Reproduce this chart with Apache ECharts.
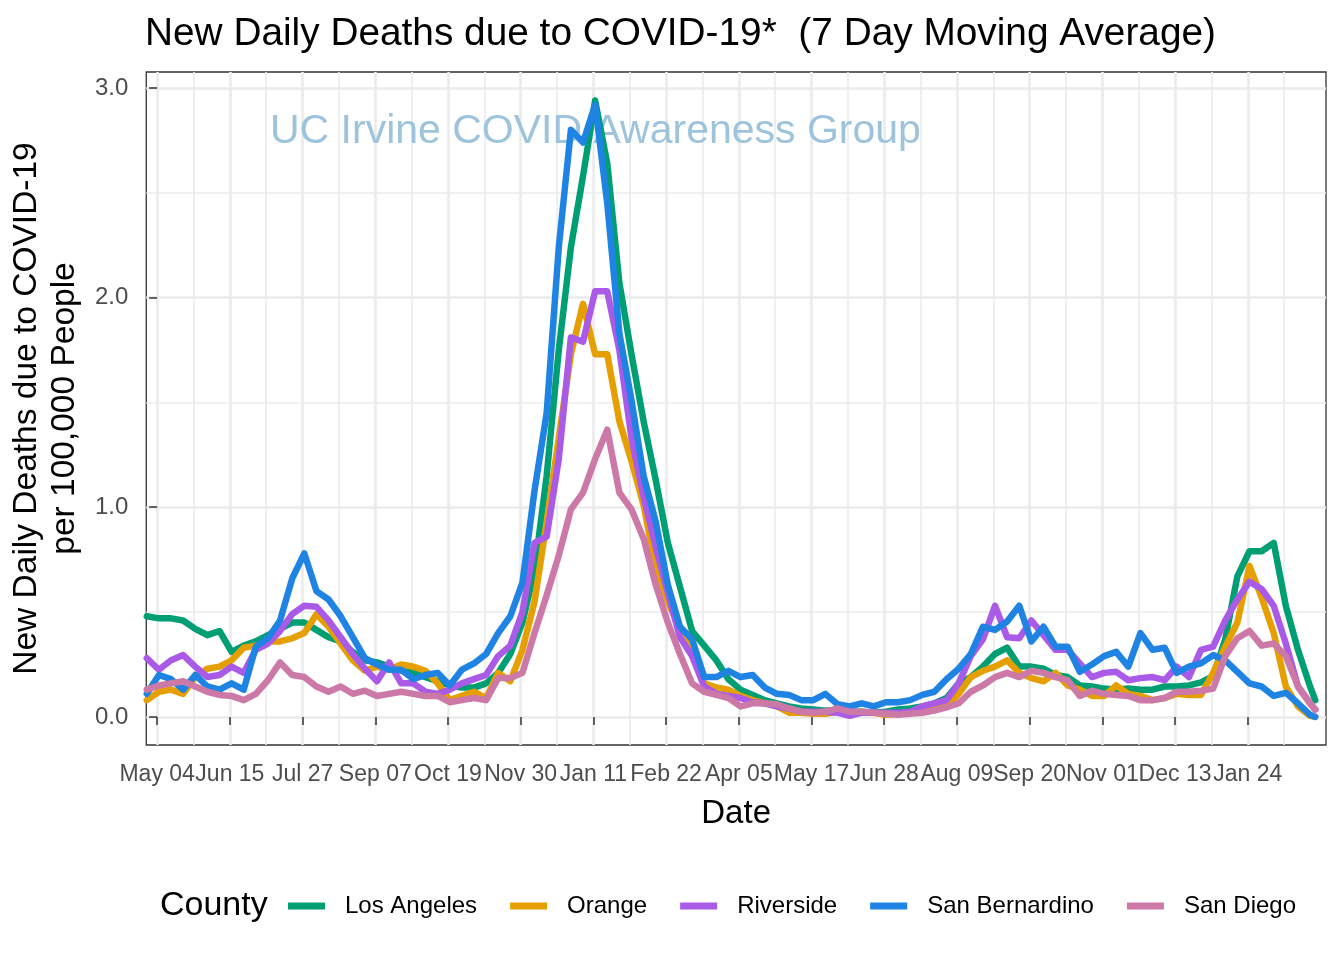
<!DOCTYPE html>
<html>
<head>
<meta charset="utf-8">
<script src="https://cdn.jsdelivr.net/npm/echarts@6/dist/echarts.min.js"></script>
<style>
html,body{margin:0;padding:0;background:#fff;}
#chart{width:1344px;height:960px;}
</style>
</head>
<body>
<div id="chart"></div>
<script>
// Day 0 = 2020-05-04
const dayOffsets = [-6,1,8,15,22,29,36,43,50,57,64,71,78,85,92,99,106,113,120,127,134,141,148,155,162,169,176,183,190,197,204,211,218,225,232,239,246,253,260,267,274,281,288,295,302,309,316,323,330,337,344,351,358,365,372,379,386,393,400,407,414,421,428,435,442,449,456,463,470,477,484,491,498,505,512,519,526,533,540,547,554,561,568,575,582,589,596,603,610,617,624,631,638,645,652,659,666,669];

const losAngeles = [0.48,0.47,0.47,0.46,0.42,0.39,0.41,0.31,0.34,0.36,
0.39,0.42,0.45,0.45,0.415,0.38,0.36,0.31,0.27,0.26,
0.24,0.22,0.21,0.19,0.17,0.15,0.14,0.14,0.16,0.21,
0.30,0.45,0.70,1.15,1.75,2.24,2.58,2.94,2.64,2.07,
1.73,1.41,1.13,0.83,0.62,0.41,0.34,0.27,0.18,0.13,
0.105,0.08,0.065,0.05,0.04,0.035,0.03,0.03,0.025,0.025,
0.02,0.025,0.035,0.04,0.05,0.065,0.09,0.16,0.19,0.24,
0.30,0.33,0.24,0.24,0.23,0.20,0.19,0.15,0.145,0.135,
0.13,0.135,0.13,0.13,0.145,0.145,0.15,0.165,0.195,0.37,
0.67,0.79,0.79,0.83,0.53,0.32,0.145,0.08];

const orange = [0.08,0.12,0.13,0.11,0.19,0.23,0.24,0.27,0.33,0.34,
0.36,0.36,0.375,0.40,0.49,0.43,0.35,0.27,0.22,0.24,
0.225,0.25,0.24,0.22,0.16,0.08,0.10,0.12,0.09,0.21,
0.17,0.32,0.55,0.93,1.33,1.73,1.97,1.73,1.73,1.41,
1.22,1.01,0.71,0.55,0.42,0.34,0.16,0.14,0.13,0.10,
0.08,0.065,0.05,0.02,0.02,0.015,0.015,0.025,0.015,0.02,
0.02,0.01,0.015,0.02,0.025,0.035,0.05,0.11,0.19,0.22,
0.24,0.27,0.21,0.185,0.17,0.21,0.15,0.13,0.10,0.10,
0.15,0.11,0.10,0.08,0.09,0.11,0.105,0.105,0.21,0.335,
0.45,0.72,0.57,0.40,0.145,0.05,0.005,0.0];

const riverside = [0.28,0.225,0.27,0.295,0.24,0.19,0.20,0.24,0.21,0.32,
0.35,0.41,0.49,0.53,0.525,0.46,0.38,0.30,0.23,0.17,
0.26,0.16,0.16,0.12,0.11,0.13,0.16,0.18,0.20,0.29,
0.34,0.50,0.83,0.86,1.23,1.81,1.79,2.03,2.03,1.75,
1.33,1.05,0.81,0.59,0.38,0.29,0.145,0.11,0.10,0.09,
0.07,0.065,0.05,0.04,0.025,0.025,0.025,0.02,0.005,0.02,
0.02,0.02,0.02,0.025,0.05,0.065,0.08,0.16,0.29,0.37,
0.53,0.38,0.375,0.46,0.39,0.32,0.32,0.255,0.19,0.21,
0.215,0.175,0.185,0.19,0.175,0.24,0.19,0.32,0.335,0.46,
0.56,0.645,0.61,0.53,0.35,0.145,0.065,0.035];

const sanBernardino = [0.11,0.20,0.18,0.13,0.20,0.145,0.13,0.16,0.13,0.335,
0.375,0.46,0.66,0.78,0.60,0.56,0.48,0.38,0.28,0.25,
0.225,0.225,0.18,0.20,0.21,0.15,0.225,0.255,0.30,0.40,
0.48,0.64,1.08,1.45,2.24,2.80,2.74,2.92,2.45,1.83,
1.51,1.15,0.93,0.63,0.43,0.37,0.19,0.19,0.22,0.19,
0.20,0.14,0.11,0.105,0.08,0.08,0.11,0.06,0.05,0.065,
0.05,0.07,0.07,0.08,0.105,0.12,0.18,0.23,0.30,0.43,
0.415,0.455,0.53,0.36,0.43,0.335,0.335,0.215,0.25,0.29,
0.31,0.24,0.40,0.32,0.33,0.21,0.24,0.255,0.295,0.27,
0.215,0.16,0.145,0.10,0.115,0.065,0.01,0.0];

const sanDiego = [0.13,0.15,0.16,0.17,0.145,0.12,0.105,0.10,0.08,0.11,
0.175,0.26,0.20,0.19,0.145,0.12,0.145,0.11,0.125,0.10,
0.11,0.12,0.11,0.10,0.10,0.07,0.08,0.09,0.08,0.185,
0.185,0.21,0.40,0.58,0.77,0.99,1.07,1.23,1.37,1.07,
0.99,0.85,0.63,0.45,0.30,0.16,0.12,0.105,0.09,0.05,
0.065,0.065,0.06,0.04,0.025,0.02,0.025,0.04,0.025,0.025,
0.02,0.015,0.01,0.015,0.02,0.03,0.045,0.065,0.12,0.15,
0.19,0.21,0.19,0.22,0.21,0.19,0.175,0.10,0.125,0.11,
0.105,0.10,0.08,0.08,0.09,0.12,0.12,0.125,0.135,0.29,
0.375,0.41,0.34,0.35,0.29,0.145,0.065,0.035];

const countyNames = ['Los Angeles','Orange','Riverside','San Bernardino','San Diego'];
const countyColors = ['#009E73','#E69F00','#A95AE6','#1E83E3','#CC79A7'];

const xTickDays = [0,42,84,126,168,210,252,294,336,378,420,462,504,546,588,630];
const xTickLabels = ['May 04','Jun 15','Jul 27','Sep 07','Oct 19','Nov 30','Jan 11','Feb 22','Apr 05','May 17','Jun 28','Aug 09','Sep 20','Nov 01','Dec 13','Jan 24'];
const xMinorDays = [21,63,105,147,189,231,273,315,357,399,441,483,525,567,609,651];
const yTicks = [0,1,2,3];
const yMinorTicks = [0.5,1.5,2.5];

const FONT = '"Liberation Sans", Arial, Helvetica, sans-serif';

function toPairs(vals){ return vals.map((v,i)=>[dayOffsets[i], v]); }
const seriesValues = [losAngeles, orange, riverside, sanBernardino, sanDiego];

const chart = echarts.init(document.getElementById('chart'), null, {renderer:'canvas'});
const option = {
  animation: false,
  backgroundColor: '#ffffff',
  textStyle: {fontFamily: FONT},
  title: {
    text: 'New Daily Deaths due to COVID-19*  (7 Day Moving Average)',
    left: 140, top: 10,
    textStyle: {fontFamily: FONT, fontSize: 38.8, fontWeight: 'normal', color: '#000'}
  },
  graphic: [
    {type:'text', left: 270, top: 111, z: 1, silent: true,
     style:{text:'UC Irvine COVID Awareness Group', font: '41px ' + FONT, fill:'#9DC4DC'}},
    {type:'text', left: 160, top: 889, silent: true,
     style:{text:'County', font: '34px ' + FONT, fill:'#000'}}
  ],
  legend: {
    data: countyNames,
    left: 283, top: 889,
    icon: 'rect', itemWidth: 37, itemHeight: 7, itemGap: 33,
    textStyle: {fontFamily: FONT, fontSize: 24, color:'#000', padding:[0,0,0,15]},
    selectedMode: false
  },
  grid: {left: 143, right: 18, top: 72, bottom: 215, show: true,
         borderColor: '#333333', borderWidth: 1.3, backgroundColor: '#ffffff'},
  xAxis: [
    {type:'value', min: -6.3, max: 675.2, gridIndex: 0,
     name: 'Date', nameLocation: 'middle', nameGap: 52,
     nameTextStyle: {fontFamily: FONT, fontSize: 33, color:'#000'},
     axisLine: {show:false},
     axisTick: {show:true, inside:false, length: 8, customValues: xTickDays,
                lineStyle:{color:'#333333', width:1.5}},
     axisLabel: {show:true, customValues: xTickDays, margin: 18,
                 fontFamily: FONT, fontSize: 23, color:'#4D4D4D',
                 formatter: function(v){ const i = xTickDays.indexOf(Math.round(v)); return i>=0 ? xTickLabels[i] : ''; }},
     splitLine: {show:true, lineStyle:{color:'#EBEBEB', width:2.6}}
    },
    {type:'value', min: -6.3, max: 675.2, gridIndex: 0, position:'bottom',
     axisLine: {show:false},
     axisTick: {show:false, customValues: xMinorDays},
     axisLabel: {show:false, customValues: xMinorDays},
     splitLine: {show:true, lineStyle:{color:'#EBEBEB', width:1.6}}
    }
  ],
  yAxis: [
    {type:'value', min: -0.134, max: 3.076, gridIndex: 0,
     name: 'New Daily Deaths due to COVID-19\nper 100,000 People',
     nameLocation: 'middle', nameRotate: 90, nameGap: 58,
     nameTextStyle: {fontFamily: FONT, fontSize: 33.5, color:'#000', lineHeight: 38},
     axisLine: {show:false},
     axisTick: {show:true, inside:false, length: 8, customValues: yTicks,
                lineStyle:{color:'#333333', width:1.5}},
     axisLabel: {show:true, customValues: yTicks, margin: 18,
                 fontFamily: FONT, fontSize: 24, color:'#4D4D4D',
                 formatter: function(v){ return v.toFixed(1); }},
     splitLine: {show:true, lineStyle:{color:'#EBEBEB', width:2.6}}
    },
    {type:'value', min: -0.134, max: 3.076, gridIndex: 0, position:'left',
     axisLine: {show:false},
     axisTick: {show:false, customValues: yMinorTicks},
     axisLabel: {show:false, customValues: yMinorTicks},
     splitLine: {show:true, lineStyle:{color:'#EBEBEB', width:1.6}}
    }
  ],
  series: countyNames.map((name, i) => ({
    name: name,
    type: 'line',
    xAxisIndex: 0, yAxisIndex: 0,
    data: toPairs(seriesValues[i]),
    showSymbol: false,
    symbol: 'none',
    color: countyColors[i],
    lineStyle: {color: countyColors[i], width: 6.5, cap:'round', join:'round'},
    z: 2 + i,
    clip: true
  }))
};
chart.setOption(option);
</script>
</body>
</html>
